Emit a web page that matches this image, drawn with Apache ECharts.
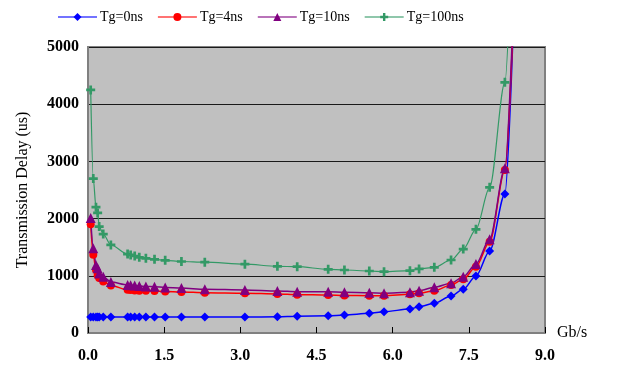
<!DOCTYPE html>
<html><head><meta charset="utf-8">
<script src="https://cdn.jsdelivr.net/npm/echarts@6/dist/echarts.min.js"></script>
<style>html,body{margin:0;padding:0;background:#fff}#c{width:619px;height:374px}</style>
</head><body><div id="c"></div>
<script>
const xs = [0.053,0.104,0.157,0.19,0.22,0.30,0.45,0.78,0.84,0.92,1.01,1.14,1.31,1.52,1.84,2.30,3.09,3.73,4.12,4.73,5.05,5.54,5.83,6.34,6.52,6.82,7.15,7.39,7.64,7.91,8.21,8.4];
const tg0   = [280,280,280,280,280,280,280,280,280,280,280,280,280,278,278,278,278,285,295,300,315,344,372,419,460,519,647,764,996,1433,2430,6000];
const tg4   = [1900,1370,1100,1010,960,900,830,755,750,745,740,738,734,725,718,705,695,682,670,664,655,652,652,676,694,740,839,939,1159,1596,2849,6000];
const tg10  = [2010,1480,1190,1130,1040,985,890,840,835,830,822,815,810,795,785,765,752,734,722,722,711,705,694,711,740,799,869,984,1206,1638,2879,6200];
const tg100 = [4250,2700,2200,2100,1860,1730,1540,1380,1365,1346,1323,1306,1288,1270,1250,1238,1203,1166,1159,1113,1101,1084,1072,1090,1120,1148,1276,1468,1813,2547,4382,8300];
const names = ['Tg=0ns','Tg=4ns','Tg=10ns','Tg=100ns'];
const xTicks = ['0.0','1.5','3.0','4.5','6.0','7.5','9.0'];

const FONT = '"Liberation Serif","Times New Roman",serif';
const plus = 'path://M3.5,0H6.5V3.5H10V6.5H6.5V10H3.5V6.5H0V3.5H3.5Z';
const pairs = a => xs.map((x,i)=>[x,a[i]]);
const mk = (name, arr, color, symbol, size, width) => ({
  name, type:'line', data: pairs(arr), symbol, symbolSize: size,
  smooth: 0.3, smoothMonotone: 'x', clip: true,
  lineStyle:{color, width}, itemStyle:{color}, emphasis:{disabled:true}
});

const chart = echarts.init(document.getElementById('c'));
chart.setOption({
  animation:false,
  backgroundColor:'#fff',
  legend:{
    top:5, left:55, padding:[5,2], itemWidth:39, itemHeight:10, itemGap:14,
    textStyle:{fontFamily:FONT, fontSize:14, color:'#000', padding:[0,0,0,-2]},
    lineStyle:{opacity:0.55},
    data:names
  },
  grid:{left:88, right:74, top:47, bottom:41, show:true, backgroundColor:'#c0c0c0', borderColor:'#808080', borderWidth:2},
  xAxis:{
    type:'value', min:0, max:9, interval:1.5,
    name:'Gb/s', nameLocation:'end', nameGap:12,
    nameTextStyle:{fontFamily:FONT, fontSize:16, color:'#000'},
    axisLine:{show:true, onZero:false, lineStyle:{color:'#808080', width:2}},
    axisTick:{show:true, inside:true, length:6, lineStyle:{color:'#000'}},
    splitLine:{show:false},
    axisLabel:{margin:15, fontFamily:FONT, fontSize:16, fontWeight:'bold', color:'#000',
      formatter:(v)=>{const i=Math.round(v/1.5); return xTicks[i]!==undefined?xTicks[i]:'';}}
  },
  yAxis:{
    type:'value', min:0, max:5000, interval:1000,
    name:'Transmission Delay (us)', nameLocation:'middle', nameGap:57,
    nameTextStyle:{fontFamily:FONT, fontSize:16, color:'#000'},
    axisLine:{show:true, lineStyle:{color:'#808080', width:2}},
    axisTick:{show:false},
    splitLine:{show:true, lineStyle:{color:'#1a1a1a', width:1}},
    axisLabel:{margin:9, fontFamily:FONT, fontSize:16, fontWeight:'bold', color:'#000',
      formatter:(v)=>String(v)}
  },
  series:[
    mk(names[0], tg0, '#0000ff', 'diamond', 9, 1.5),
    mk(names[1], tg4, '#ff0000', 'circle', 8, 1.5),
    mk(names[2], tg10, '#800080', 'triangle', 10, 1.5),
    mk(names[3], tg100, '#339966', plus, 9, 1.2)
  ]
});
</script></body></html>
